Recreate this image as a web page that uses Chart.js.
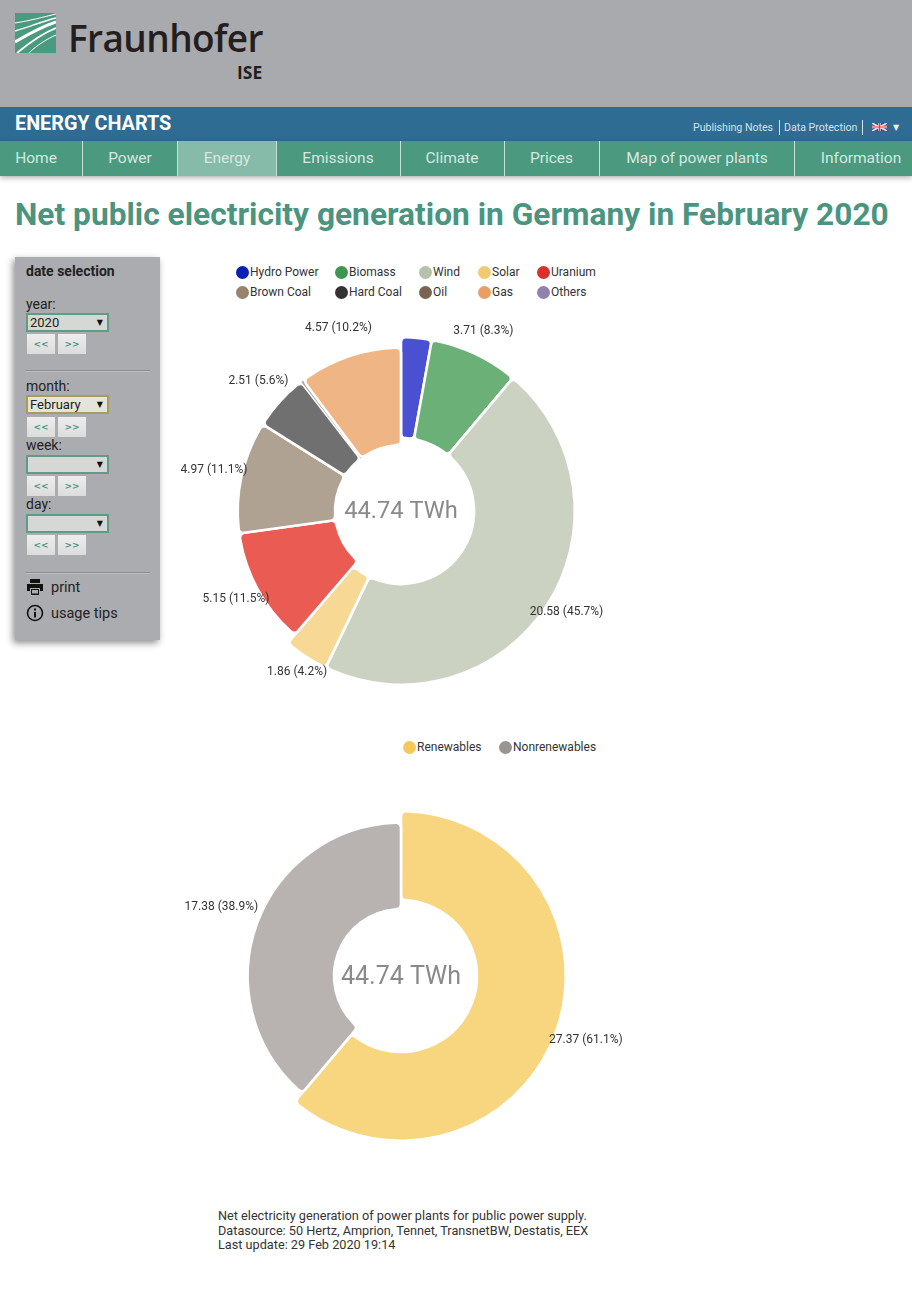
<!DOCTYPE html>
<html>
<head>
<meta charset="utf-8">
<title>Energy Charts</title>
<script src="https://cdn.jsdelivr.net/npm/chart.js@4"></script>
<style>
html, body { margin: 0; padding: 0; background: #fff; }
body { position: relative; width: 912px; height: 1298px; overflow: hidden; font-family: Roboto, sans-serif; color: #333; }
.abs { position: absolute; white-space: nowrap; }
#top { left: 0; top: 0; width: 912px; height: 107px; background: #a9aaae; }
#brand { left: 68px; top: 15px; font: 600 37px/46px "Open Sans", sans-serif; color: #231f20; letter-spacing: -0.6px; }
#ise { left: 237px; top: 62px; font: 700 17.5px/20px "Open Sans", sans-serif; color: #231f20; }
#bar { left: 0; top: 107px; width: 912px; height: 34px; background: #2e6c94; }
#bartitle { left: 15px; top: 112px; font: 700 19.8px/24px Roboto, sans-serif; color: #fff; }
.toplink { top: 120px; font: 10.6px/15px Roboto, sans-serif; color: #d5e2ea; }
.topsep { top: 120px; width: 1px; height: 15px; background: #d5e2ea; }
#nav { left: 0; top: 141px; width: 912px; height: 35px; background: #4b9a7f; box-shadow: 0 2px 5px rgba(0,0,0,.3); }
.navsep { top: 141px; width: 1px; height: 35px; background: #c5e0d6; }
#navactive { left: 178px; top: 141px; width: 98px; height: 35px; background: #85bba8; }
.navitem { top: 141px; font: 15.5px/35px Roboto, sans-serif; color: #d5e8e0; transform: translateX(-50%); }
#title { left: 15px; top: 195px; font: 700 31.7px/40px Roboto, sans-serif; color: #4a9480; }
#side { left: 15px; top: 257px; width: 145px; height: 383px; background: #abacb0; box-shadow: -2px 3px 7px rgba(0,0,0,.45); }
.sidetxt { left: 26px; font: 14px/16px Roboto, sans-serif; color: #222; }
.sel { left: 26px; width: 79px; height: 15px; border: 2px solid #5f9c88; background: #d6d8d6; font: 13px/15px Roboto, sans-serif; color: #222; }
.sel span { margin-left: 2px; }
.sel i { position: absolute; right: 4px; top: 0; font: normal 8px/15px "DejaVu Sans", sans-serif; color: #111; }
.btn { width: 28px; height: 20px; background: linear-gradient(#ededed, #dcdcdc); font: 700 9px/20px "DejaVu Sans", sans-serif; color: #4a9480; text-align: center; }
.hr { left: 25px; width: 125px; height: 1px; background: #8c8d90; border-bottom: 1px solid #bdbec1; }
canvas { position: absolute; }
.legtxt { font: 12px/14px Roboto, sans-serif; color: #333; }
.legdot { width: 13px; height: 13px; border-radius: 50%; }
#foot { left: 218px; top: 1209px; font: 12.7px/14.5px Roboto, sans-serif; color: #333; }
</style>
</head>
<body>
<div class="abs" id="top"></div>
<svg class="abs" style="left:15px;top:13px" width="41" height="40" viewBox="0 0 41 40">
  <rect width="41" height="40" fill="#4a9a80"/>
  <g fill="none" stroke="#fff">
    <path d="M0 10 C14 8 28 4 41 1" stroke-width="1"/>
    <path d="M0 18 C14 14 28 8 41 5" stroke-width="1.4"/>
    <path d="M0 29 C12 22 26 14 41 9" stroke-width="3"/>
    <path d="M2 40 C14 30 28 20 41 15" stroke-width="1.8"/>
    <path d="M14 40 C22 32 32 26 41 22" stroke-width="1"/>
  </g>
</svg>
<div class="abs" id="brand">Fraunhofer</div>
<div class="abs" id="ise">ISE</div>
<div class="abs" id="bar"></div>
<div class="abs" id="bartitle">ENERGY CHARTS</div>
<div class="abs toplink" style="left:693px">Publishing Notes</div>
<div class="abs topsep" style="left:779px"></div>
<div class="abs toplink" style="left:784px">Data Protection</div>
<div class="abs topsep" style="left:862px"></div>
<svg class="abs" style="left:872px;top:123px" width="15" height="8" viewBox="0 0 15 8">
  <rect width="15" height="8" fill="#3b4a86"/>
  <path d="M0 0L15 8M15 0L0 8" stroke="#f2dede" stroke-width="1.6"/>
  <path d="M7.5 0V8M0 4H15" stroke="#f2dede" stroke-width="2.4"/>
  <path d="M7.5 0V8M0 4H15" stroke="#d8404a" stroke-width="1.2"/>
</svg>
<div class="abs" style="left:893px;top:120px;font:8px/15px 'DejaVu Sans',sans-serif;color:#e8eef2">▼</div>

<div class="abs" id="nav"></div>
<div class="abs" id="navactive"></div>
<div id="navbox"></div>
<div class="abs" id="title">Net public electricity generation in Germany in February 2020</div>

<div class="abs" id="side"></div>
<div id="sidebox"></div>
<svg class="abs" style="left:26px;top:579px" width="18" height="16" viewBox="0 0 18 16">
  <path d="M4 0H14V4H4Z M1 5H17V12H14V9H4V12H1Z M5 10H13V16H5Z" fill="#111"/>
  <rect x="6" y="11" width="6" height="3.5" fill="#abacb0"/>
</svg>
<svg class="abs" style="left:26px;top:604px" width="18" height="18" viewBox="0 0 18 18">
  <circle cx="9" cy="9" r="7.5" fill="none" stroke="#111" stroke-width="1.6"/>
  <rect x="8" y="8" width="2" height="5.5" fill="#111"/><rect x="8" y="4.5" width="2" height="2" fill="#111"/>
</svg>
<div class="abs sidetxt" style="left:51px;top:580px;font-size:14.5px">print</div>
<div class="abs sidetxt" style="left:51px;top:606px;font-size:14.5px">usage tips</div>

<div id="legendbox"></div>
<canvas id="mixChart" width="480" height="400" style="left:161px;top:311px;width:480px;height:400px"></canvas>
<canvas id="shareChart" width="480" height="400" style="left:161px;top:776px;width:480px;height:400px"></canvas>

<div class="abs" id="foot">Net electricity generation of power plants for public power supply.<br>Datasource: 50 Hertz, Amprion, Tennet, TransnetBW, Destatis, EEX<br>Last update: 29 Feb 2020 19:14</div>

<script>
// data
const sources = ['Hydro Power', 'Biomass', 'Wind', 'Solar', 'Uranium', 'Brown Coal', 'Hard Coal', 'Oil', 'Gas', 'Others'];
const sourceTwh = [1.27, 3.71, 20.58, 1.86, 5.15, 4.97, 2.51, 0.12, 4.57, 0];
const sourcePct = [null, '8.3', '45.7', '4.2', '11.5', '11.1', '5.6', null, '10.2', null];
const shareNames = ['Renewables', 'Nonrenewables'];
const shareTwh = [27.37, 17.38];
const sharePct = ['61.1', '38.9'];
const totalLabel = '44.74 TWh';

const navNames = ['Home', 'Power', 'Energy', 'Emissions', 'Climate', 'Prices', 'Map of power plants', 'Information'];

// styles
const sourceColors = ['#4a50d2', '#6bb077', '#cbd2c2', '#f7d894', '#e95b53', '#b0a293', '#707070', '#b5a595', '#efb585', '#b3a8c8'];
const sourceDots = ['#0a1fb5', '#3f9650', '#b5c2ab', '#f2ca72', '#d8302a', '#96826d', '#333333', '#7a6350', '#e79f63', '#9081ae'];
const shareColors = ['#f7d67f', '#b8b3b0'];
const shareDots = ['#f4c95a', '#9a9492'];

// the renewable slices stand out from the others, so each slice gets its own ring
const sourceOuter = [173.8, 173.8, 173.8, 173.8, 163.3, 163.3, 163.3, 163.3, 163.3, 163.3];
const sourceInner = [73, 73, 73, 73, 66, 66, 66, 66, 66, 66];
const shareOuter = [164.8, 153.3];
const shareInner = [76, 67];

// label offset from the slice middle: distance from centre and turn in degrees
const sourceLabelDist = [0, 188, 163, 177, 158, 159, 172, 0, 186, 0];
const sourceLabelTurn = [0, -9, 5, -8.5, -5, 3, 7, 0, 9.4, 0];
const shareLabelDist = [161, 159];
const shareLabelTurn = [3, 6];

const ringsPlugin = {
    id: 'rings',
    afterDatasetsUpdate(chart, args, opts) {
        chart.getDatasetMeta(0).data.forEach((arc, i) => {
            arc.outerRadius = opts.outer[i];
            arc.innerRadius = opts.inner[i];
        });
    },
    afterDraw(chart, args, opts) {
        const c = chart.ctx;
        const values = chart.data.datasets[0].data;
        c.save();
        c.textBaseline = 'middle';
        c.fillStyle = '#333';
        c.font = '12px Roboto';
        chart.getDatasetMeta(0).data.forEach((arc, i) => {
            if (opts.pct[i] === null) return;
            const mid = (arc.startAngle + arc.endAngle) / 2 + opts.turn[i] * Math.PI / 180;
            const x = arc.x + opts.dist[i] * Math.cos(mid);
            const y = arc.y + opts.dist[i] * Math.sin(mid);
            c.textAlign = Math.cos(mid) >= 0 ? 'left' : 'right';
            c.fillText(values[i].toFixed(2) + ' (' + opts.pct[i] + '%)', x, y + 0.5);
        });
        const first = chart.getDatasetMeta(0).data[0];
        c.textAlign = 'center';
        c.fillStyle = '#8a8a8a';
        c.font = opts.centerFont;
        c.fillText(totalLabel, first.x, first.y + 1.5);
        c.restore();
    }
};

function ringChart(id, names, values, colors, rings) {
    new Chart(document.getElementById(id), {
        type: 'doughnut',
        data: {
            labels: names,
            datasets: [{
                data: values,
                backgroundColor: colors,
                borderColor: '#fff',
                // the very thin oil slice would vanish under a full border
                borderWidth: ctx => ctx.raw > 1 ? 2.6 : (ctx.raw > 0 ? 0.5 : 0),
                borderRadius: 5
            }]
        },
        options: {
            responsive: false,
            animation: false,
            radius: 172,
            cutout: 70,
            plugins: { legend: { display: false }, tooltip: { enabled: false }, rings: rings }
        },
        plugins: [ringsPlugin]
    });
}

ringChart('mixChart', sources, sourceTwh, sourceColors, {
    outer: sourceOuter, inner: sourceInner, pct: sourcePct,
    dist: sourceLabelDist, turn: sourceLabelTurn, centerFont: '23.7px Roboto'
});
ringChart('shareChart', shareNames, shareTwh, shareColors, {
    outer: shareOuter, inner: shareInner, pct: sharePct,
    dist: shareLabelDist, turn: shareLabelTurn, centerFont: '25px Roboto'
});

// page furniture
function put(parent, cls, left, top, html, extra) {
    const el = document.createElement('div');
    el.className = 'abs ' + cls;
    if (left !== null) el.style.left = left + 'px';
    el.style.top = top + 'px';
    el.innerHTML = html;
    if (extra) Object.assign(el.style, extra);
    parent.appendChild(el);
    return el;
}

const navBox = document.getElementById('navbox');
const navCentres = [36, 130, 227, 338, 452, 551.5, 697, 861];
const navSeps = [82, 177, 276, 400, 504, 599, 794];
navSeps.forEach(x => put(navBox, 'navsep', x, 141, ''));
navNames.forEach((n, i) => put(navBox, 'navitem', navCentres[i], 141, n));

const side = document.getElementById('sidebox');
put(side, 'sidetxt', null, 263, 'date selection', { fontWeight: 700 });
const pickers = [
    ['year:', 296, 313, '2020', 334, '#5f9c88', '#d6d8d6'],
    ['month:', 378, 395, 'February', 417, '#a89b5f', '#e4e4da'],
    ['week:', 437, 455, '', 476, '#5f9c88', '#d6d8d6'],
    ['day:', 496, 514, '', 535, '#5f9c88', '#d6d8d6']
];
pickers.forEach(([name, ty, sy, val, by, edge, fill]) => {
    put(side, 'sidetxt', null, ty, name);
    put(side, 'sel', null, sy, '<span>' + val + '</span><i>▼</i>', { borderColor: edge, background: fill });
    put(side, 'btn', 27, by, '&lt;&lt;');
    put(side, 'btn', 58, by, '&gt;&gt;');
});
put(side, 'hr', null, 370, '');
put(side, 'hr', null, 572, '');

// legends sit in fixed columns
const legendBox = document.getElementById('legendbox');
function legend(names, dots, columns, rowTops) {
    names.forEach((n, i) => {
        const col = i % columns.length;
        const top = rowTops[Math.floor(i / columns.length)];
        put(legendBox, 'legdot', columns[col] - 6, top, '', { background: dots[i] });
        put(legendBox, 'legtxt', columns[col] + 8, top - 1, n);
    });
}
legend(sources, sourceDots, [242, 341, 425, 484, 543], [266, 286]);
legend(shareNames, shareDots, [409, 505], [741]);
</script>
</body>
</html>
